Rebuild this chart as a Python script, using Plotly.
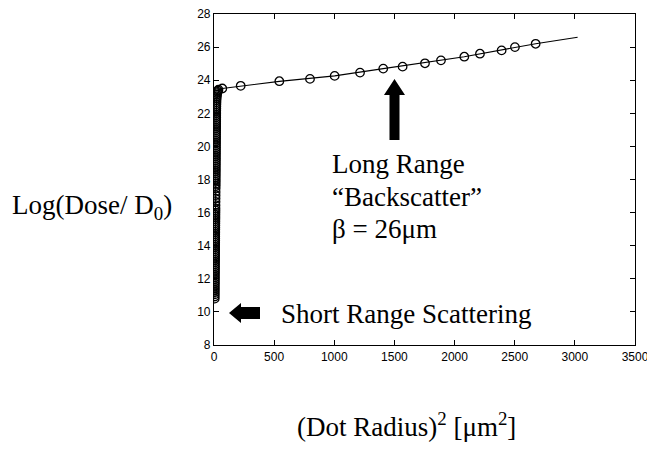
import plotly.graph_objects as go

# Measured dose for each dot size: x = (dot radius)^2 in um^2, y = log(dose / D0)
# Small dots (short-range region, packed against x = 0)
small_r2 = [6.00, 6.15, 6.30, 6.45, 6.60, 6.75, 6.90, 7.05, 7.20, 7.35, 7.50, 7.65,
            7.80, 7.95, 8.10, 8.25, 8.40, 8.55, 8.70, 8.85, 9.00, 9.15, 9.30, 9.45,
            9.60, 9.75, 9.90, 10.05, 10.20, 10.35, 10.50, 10.65, 10.80, 10.95, 11.10,
            11.25, 11.40, 11.55, 11.70, 11.85, 12.00, 12.15, 12.30,
            12.5, 12.7, 12.9, 13.1, 13.3, 13.5, 13.65,
            13.80, 13.95, 14.10, 14.25, 14.40, 14.55, 14.70, 14.85, 15.00, 15.15,
            15.30, 15.45, 15.60, 15.75, 15.90, 16.05, 16.20, 16.35, 16.50, 16.65,
            16.80, 16.95, 17.10, 17.25, 17.40, 17.55, 17.70, 17.85, 18.00, 18.15,
            18.30, 18.45, 18.60, 18.75, 18.90, 19.10, 19.40, 19.80, 20.30, 20.90,
            21.8, 23.0, 24.5, 26.5, 29.0, 32.5, 37.0]
small_logdose = [10.80, 10.93, 11.06, 11.19, 11.32, 11.45, 11.58, 11.71, 11.84, 11.97,
                 12.10, 12.23, 12.36, 12.49, 12.62, 12.75, 12.88, 13.01, 13.14, 13.27,
                 13.40, 13.53, 13.66, 13.79, 13.92, 14.05, 14.18, 14.31, 14.44, 14.57,
                 14.70, 14.83, 14.96, 15.09, 15.22, 15.35, 15.48, 15.61, 15.74, 15.87,
                 16.00, 16.13, 16.26,
                 16.45, 16.65, 16.85, 17.05, 17.25, 17.45, 17.60,
                 17.73, 17.86, 17.99, 18.12, 18.25, 18.38, 18.51, 18.64, 18.77, 18.90,
                 19.03, 19.16, 19.29, 19.42, 19.55, 19.68, 19.81, 19.94, 20.07, 20.20,
                 20.33, 20.46, 20.59, 20.72, 20.85, 20.98, 21.11, 21.24, 21.37, 21.50,
                 21.63, 21.76, 21.89, 22.02, 22.15, 22.28, 22.41, 22.54, 22.67, 22.80,
                 22.92, 23.03, 23.13, 23.22, 23.30, 23.37, 23.43]

# Large dots (long-range backscatter region)
large_r2 = [69, 222, 543, 798, 1003, 1214, 1407, 1568, 1754, 1887, 2081, 2211, 2391,
            2502, 2674]
large_logdose = [23.50, 23.66, 23.94, 24.08, 24.26, 24.46, 24.70, 24.82, 25.02, 25.20,
                 25.42, 25.60, 25.80, 26.00, 26.20]

# Fitted model curve
fit_r2 = [8, 10, 12, 15, 18, 22, 30, 45, 69, 543, 1003, 1407, 2081, 2674, 3023]
fit_logdose = [10.8, 14.0, 17.0, 20.0, 21.8, 22.8, 23.2, 23.4, 23.5, 23.93, 24.26,
               24.70, 25.42, 26.20, 26.60]

x_ticks = [0, 500, 1000, 1500, 2000, 2500, 3000, 3500]
y_ticks = [8, 10, 12, 14, 16, 18, 20, 22, 24, 26, 28]

W, H = 647, 462
L, R, T, B = 214, 12, 14, 117
PW, PH = W - L - R, H - T - B

def px(xp):
    return (xp - L) / PW

def py(yp):
    return (H - B - yp) / PH

def poly(points):
    return "M " + " L ".join(f"{px(a):.5f},{py(b):.5f}" for a, b in points) + " Z"

serif = "Liberation Serif, Times New Roman, serif"
sans = "Liberation Sans, Arial, Helvetica, sans-serif"

fig = go.Figure()
fig.add_trace(go.Scatter(x=fit_r2, y=fit_logdose, mode="lines",
                         line=dict(color="black", width=1.1), hoverinfo="skip"))
fig.add_trace(go.Scatter(x=small_r2 + large_r2, y=small_logdose + large_logdose,
                         mode="markers",
                         marker=dict(symbol="circle-open", size=8.5, color="black",
                                     line=dict(width=1.3, color="black"))))

axis_common = dict(showgrid=False, zeroline=False, showline=True, linecolor="black",
                   linewidth=1.2, mirror="ticks", ticks="inside", ticklen=5,
                   tickwidth=1, tickcolor="black", ticklabeloverflow="allow",
                   automargin=False,
                   tickfont=dict(family=sans, size=12, color="black"))

fig.update_layout(
    width=W, height=H, margin=dict(l=L, r=R, t=T, b=B),
    paper_bgcolor="white", plot_bgcolor="white", showlegend=False,
    xaxis=dict(range=[0, 3500], tickvals=x_ticks, **axis_common),
    yaxis=dict(range=[8, 28], tickvals=y_ticks, ticklabelstandoff=0, **axis_common),
)

# Text labels
labels = [
    ("Log(Dose/ D<sub>0</sub>)", 92, 207, "center"),
    ("(Dot Radius)<sup>2</sup> [μm<sup>2</sup>]", 406, 425, "center"),
    ("Long Range", 330, 164, "left"),
    ("“Backscatter”", 330, 197, "left"),
    ("β = 26μm", 330, 229, "left"),
    ("Short Range Scattering", 279, 314, "left"),
]
for text, xp, yp, anchor in labels:
    fig.add_annotation(text=text, x=px(xp), y=py(yp), xref="paper", yref="paper",
                       xanchor=anchor, yanchor="middle", showarrow=False,
                       font=dict(family=serif, size=27, color="black"))

# Block arrows
up_arrow = [(394.5, 79), (405, 95), (399.5, 95), (399.5, 140), (389.5, 140),
            (389.5, 95), (384, 95)]
left_arrow = [(229, 313), (241, 303), (241, 307), (260, 307), (260, 319), (241, 319),
              (241, 323)]
for shape_pts in (up_arrow, left_arrow):
    fig.add_shape(type="path", path=poly(shape_pts), xref="paper", yref="paper",
                  fillcolor="black", line=dict(color="black", width=0))

fig.write_html("out.html")
